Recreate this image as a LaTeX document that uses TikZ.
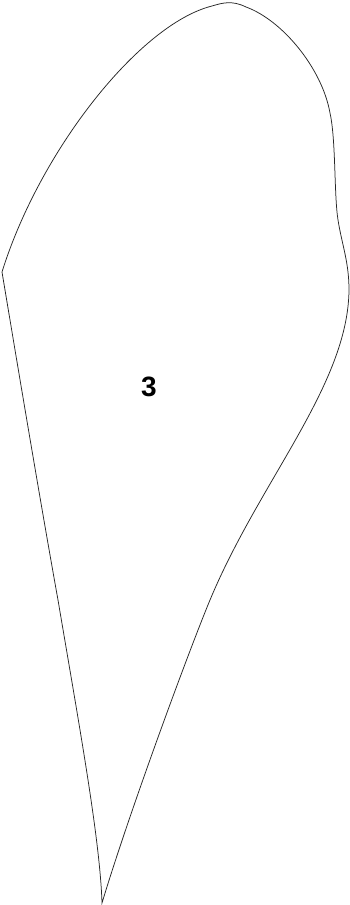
\documentclass[tikz,border=0pt]{standalone}
\usepackage{fontspec}
\setmainfont{Liberation Sans}
\begin{document}
\begin{tikzpicture}[x=1pt,y=-1pt,
  outline/.style={draw=black!85,line width=0.75pt,line join=miter},
  lbl/.style={font=\bfseries\fontsize{28}{30}\selectfont,inner sep=0pt}]
\useasboundingbox (0,0) rectangle (350,905);
\coordinate (L) at (2,272);
\coordinate (T1) at (212,6);
\coordinate (T2) at (246,7);
\coordinate (R1) at (330,113);
\coordinate (R2) at (338,220);
\coordinate (R3) at (349,290);
\coordinate (R4) at (210,600);
\coordinate (B) at (102,903);
\coordinate (L1) at (58,600);
\draw[outline] (L) .. controls (40,150) and (140,24) .. (T1)
  .. controls (222,3) and (232,0) .. (T2)
  .. controls (282,20) and (322,68) .. (R1)
  .. controls (336,140) and (334,195) .. (R2)
  .. controls (342,245) and (349,262) .. (R3)
  .. controls (348,385) and (260,480) .. (R4)
  .. controls (190,648) and (130,810) .. (B)
  .. controls (100,840) and (80,730) .. (L1)
  .. controls (40,500) and (15,350) .. (L) -- cycle;
\node[lbl] (n3) at (149,387) {3};
\end{tikzpicture}
\end{document}
